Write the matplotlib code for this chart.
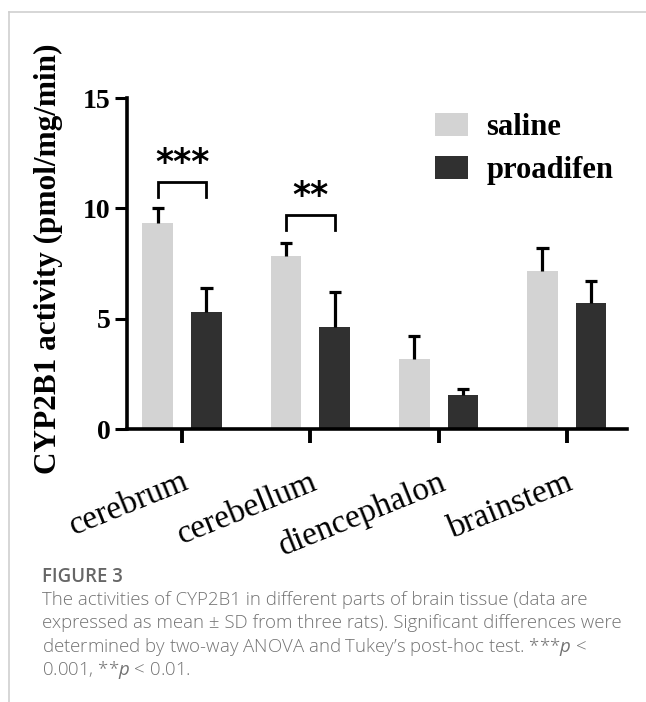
import matplotlib
matplotlib.use("Agg")
import matplotlib.pyplot as plt
from matplotlib.lines import Line2D
import numpy as np

# CYP2B1 activity (pmol/mg/min), mean and SD per brain region
regions = ["cerebrum", "cerebellum", "diencephalon", "brainstem"]
saline_mean = [9.35, 7.85, 3.15, 7.15]
saline_sd = [0.68, 0.57, 1.05, 1.05]
proadifen_mean = [5.3, 4.6, 1.55, 5.7]
proadifen_sd = [1.1, 1.62, 0.27, 1.02]

# significance brackets: (region index, label, bracket height)
sig_marks = [(0, "***", 11.2), (1, "**", 9.7)]

caption_title = "FIGURE 3"
caption_lines = [
    "The activities of CYP2B1 in different parts of brain tissue (data are",
    "expressed as mean \u00b1 SD from three rats). Significant differences were",
    "determined by two-way ANOVA and Tukey\u2019s post-hoc test. ***$p$ <",
    "0.001, **$p$ < 0.01.",
]

SALINE = "#d3d3d3"
PROADIFEN = "#303030"
SERIF = "Liberation Serif"

plt.rcParams["mathtext.fontset"] = "custom"
plt.rcParams["mathtext.it"] = "Open Sans:italic"
plt.rcParams["mathtext.rm"] = "Open Sans"

W, H = 646, 702
fig = plt.figure(figsize=(W / 100, H / 100), dpi=100, facecolor="white")

# page frame lines
fig.add_artist(Line2D([9 / W, 1], [1 - 12 / H, 1 - 12 / H], color="#cfcfcf", lw=1.2))
fig.add_artist(Line2D([9 / W, 9 / W], [0, 1 - 12 / H], color="#cfcfcf", lw=1.2))

ax = fig.add_axes([127 / W, 1 - 429 / H, 500 / W, 331 / H])

x = np.arange(len(regions))
off, bw = 0.19, 0.24
ax.bar(x - off, saline_mean, bw, color=SALINE, label="saline", zorder=2)
ax.bar(x + off, proadifen_mean, bw, color=PROADIFEN, label="proadifen", zorder=2)

# upper-only error bars
cap = 0.048
for xs, m, sd in [(x - off, saline_mean, saline_sd), (x + off, proadifen_mean, proadifen_sd)]:
    top = np.array(m) + np.array(sd)
    ax.vlines(xs, m, top, color="black", lw=2.3, zorder=3)
    ax.hlines(top, xs - cap, xs + cap, color="black", lw=2.3, zorder=3)

for i, label, yb in sig_marks:
    x0, x1 = i - off, i + off
    ax.plot([x0, x0, x1, x1], [yb - 0.7, yb, yb, yb - 0.7], color="black", lw=2.0,
            solid_joinstyle="miter", zorder=3)
    ax.text(i, yb + 0.85, label, ha="center", va="center", fontsize=25,
            fontweight="bold", family="DejaVu Sans")

ax.set_xlim(-0.43, 3.47)
ax.set_ylim(0, 15)
ax.set_yticks([0, 5, 10, 15])
ax.set_xticks(x)
ax.set_xticklabels(regions, rotation=22, ha="right", rotation_mode="anchor",
                   family=SERIF, fontsize=24)
for t in ax.get_yticklabels():
    t.set_family(SERIF)
    t.set_fontweight("bold")
    t.set_fontsize(20)

for s in ["top", "right"]:
    ax.spines[s].set_visible(False)
for s in ["left", "bottom"]:
    ax.spines[s].set_linewidth(2.6)
ax.tick_params(axis="y", length=9, width=2.2, pad=3)
ax.tick_params(axis="x", length=10, width=2.8, pad=17)

ax.set_ylabel("CYP2B1 activity (pmol/mg/min)", family=SERIF, fontweight="bold", fontsize=22.5)
ax.yaxis.set_label_coords(-0.128, 0.514)

ax.legend(loc="upper right", bbox_to_anchor=(1.028, 1.037), frameon=False,
          prop={"family": SERIF, "weight": "bold", "size": 22},
          handlelength=1.1, handleheight=0.75, handletextpad=0.6, labelspacing=0.45)

# caption below the chart
fig.text(42 / W, 1 - 582 / H, caption_title, family="Open Sans", fontweight="semibold",
         fontsize=13.4, color="#666666", va="baseline")
for k, line in enumerate(caption_lines):
    fig.text(42 / W, 1 - (605 + 23.3 * k) / H, line, family="Open Sans", fontweight="light",
             fontsize=13.4, color="#737373", va="baseline")

fig.savefig("out.png", dpi=100, facecolor="white")
